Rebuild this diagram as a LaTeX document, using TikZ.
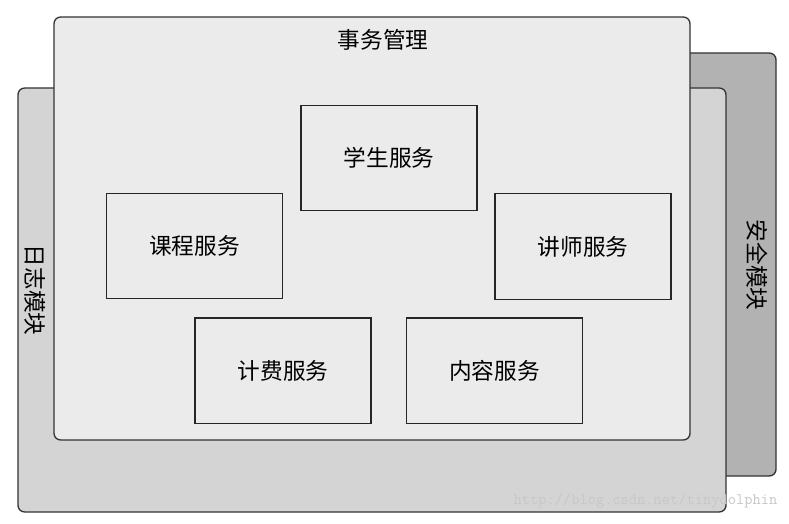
\documentclass[tikz,border=0pt]{standalone}
\usepackage{fontspec}
\newfontfamily\cjk{Noto Sans CJK SC}
\begin{document}
\begin{tikzpicture}[x=0.75pt,y=-0.75pt,
  panel/.style={draw=black!80,line width=1pt,rounded corners=5pt},
  svc/.style={draw=black!85,line width=1pt,fill=black!8,minimum width=132pt,minimum height=79pt,font=\cjk\fontsize{17}{19}\selectfont},
  lbl/.style={font=\cjk\fontsize{17}{19}\selectfont}]
\useasboundingbox[fill=white] (0,0) rectangle (789,524);
\draw[panel,fill=black!30] (640,53) rectangle (776,476);
\node[lbl,rotate=-90] (sec) at (757,265) {安全模块};
\draw[panel,fill=black!17] (18,88) rectangle (726,512);
\node[lbl,rotate=-90] (log) at (35,290) {日志模块};
\draw[panel,fill=black!8] (54,17) rectangle (690,440);
\node[lbl] (tx) at (383,40) {事务管理};
\node[svc] (stu) at (389,158) {学生服务};
\node[svc] (cou) at (194.5,246) {课程服务};
\node[svc] (tea) at (583,246.5) {讲师服务};
\node[svc] (fee) at (283,370.5) {计费服务};
\node[svc] (con) at (494.5,370.5) {内容服务};
\node[font=\ttfamily\fontsize{12}{14}\selectfont,text=black!22,anchor=east] (wm) at (782,501) {http://blog.csdn.net/tinydolphin};
\end{tikzpicture}
\end{document}
